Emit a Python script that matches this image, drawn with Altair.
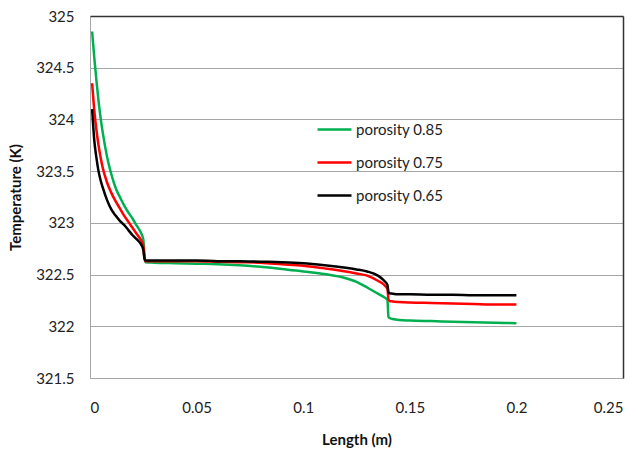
import altair as alt
import pandas as pd

# Length along the bed (m)
length = [0.001, 0.002, 0.003, 0.004, 0.005, 0.006, 0.008, 0.010, 0.012, 0.014,
          0.016, 0.018, 0.020, 0.022, 0.024, 0.025, 0.0255, 0.026, 0.03, 0.04,
          0.05, 0.06, 0.07, 0.08, 0.09, 0.10, 0.11, 0.12, 0.125, 0.13,
          0.135, 0.138, 0.1395, 0.1400, 0.1405, 0.142, 0.145, 0.15, 0.16, 0.17,
          0.18, 0.19, 0.20]

# Temperature (K) for each porosity
t_085 = [324.85, 324.60, 324.38, 324.18, 324.01, 323.87, 323.64, 323.47, 323.34, 323.25,
         323.17, 323.10, 323.04, 322.97, 322.90, 322.84, 322.70, 322.62, 322.615, 322.61,
         322.605, 322.60, 322.59, 322.575, 322.555, 322.53, 322.505, 322.465, 322.43, 322.375,
         322.315, 322.28, 322.255, 322.09, 322.08, 322.07, 322.06, 322.055, 322.05, 322.045,
         322.04, 322.035, 322.03]
t_075 = [324.35, 324.09, 323.90, 323.75, 323.63, 323.53, 323.39, 323.29, 323.21, 323.14,
         323.07, 323.01, 322.95, 322.89, 322.83, 322.78, 322.67, 322.63, 322.63, 322.63,
         322.63, 322.625, 322.62, 322.615, 322.60, 322.585, 322.56, 322.53, 322.51, 322.49,
         322.44, 322.40, 322.36, 322.26, 322.245, 322.24, 322.235, 322.23, 322.225, 322.22,
         322.215, 322.21, 322.21]
t_065 = [324.10, 323.80, 323.63, 323.50, 323.41, 323.34, 323.22, 323.13, 323.07, 323.02,
         322.98, 322.93, 322.88, 322.84, 322.79, 322.74, 322.66, 322.635, 322.635, 322.635,
         322.635, 322.63, 322.63, 322.625, 322.62, 322.61, 322.59, 322.565, 322.55, 322.53,
         322.49, 322.44, 322.40, 322.33, 322.32, 322.315, 322.31, 322.31, 322.305, 322.305,
         322.30, 322.30, 322.30]

series_names = ["porosity 0.85", "porosity 0.75", "porosity 0.65"]
series_colors = ["#00b050", "#ff0000", "#000000"]

x_ticks = [0, 0.05, 0.1, 0.15, 0.2, 0.25]
y_ticks = [321.5, 322, 322.5, 323, 323.5, 324, 324.5, 325]

rows = []
for name, vals in zip(series_names, [t_085, t_075, t_065]):
    for x, t in zip(length, vals):
        rows.append({"Length": x, "Temperature": t, "series": name})
df = pd.DataFrame(rows)

FONT = "Lato"
x_scale = alt.Scale(domain=[0, 0.25], nice=False)
y_scale = alt.Scale(domain=[321.5, 325], nice=False, zero=False)

lines = alt.Chart(df).mark_line(strokeWidth=2.5, interpolate="monotone").encode(
    x=alt.X("Length:Q", scale=x_scale,
            axis=alt.Axis(title="Length (m)", values=x_ticks, format=".2~f", grid=False,
                          ticks=False, domainColor="#a6a6a6", domainWidth=1,
                          labelFont=FONT, labelFontSize=15, labelColor="#222222",
                          labelPadding=22, titleFont=FONT, titleFontSize=15,
                          titleFontWeight="bold", titleColor="#111111", titlePadding=17)),
    y=alt.Y("Temperature:Q", scale=y_scale,
            axis=alt.Axis(title="Temperature (K)", values=y_ticks, format=".1~f", grid=True,
                          gridColor="#a6a6a6", gridWidth=1, ticks=False,
                          domainColor="#a6a6a6", domainWidth=1,
                          labelFont=FONT, labelFontSize=15, labelColor="#222222",
                          labelPadding=16, titleFont=FONT, titleFontSize=15,
                          titleFontWeight="bold", titleColor="#111111", titlePadding=12)),
    color=alt.Color("series:N", sort=series_names,
                    scale=alt.Scale(domain=series_names, range=series_colors),
                    legend=alt.Legend(title=None, orient="none", legendX=226, legendY=95,
                                      symbolType="stroke", symbolSize=1156,
                                      symbolStrokeWidth=2.5, labelFont=FONT,
                                      labelFontSize=15, labelColor="#222222",
                                      labelOffset=3, rowPadding=6)),
)

frame = alt.Chart(df).mark_line(opacity=0).encode(
    x=alt.X("Length:Q", scale=x_scale,
            axis=alt.Axis(orient="top", labels=False, ticks=False, title=None, grid=False,
                          domainColor="#333333", domainWidth=1.5, zindex=1)),
    y=alt.Y("Temperature:Q", scale=y_scale,
            axis=alt.Axis(orient="right", labels=False, ticks=False, title=None, grid=False,
                          domainColor="#333333", domainWidth=1.5, zindex=1)),
)

chart = alt.layer(lines, frame).resolve_axis(x="independent", y="independent").properties(
    width=533, height=362, autosize="none",
    padding={"left": 90, "top": 16, "right": 15, "bottom": 76},
).configure_view(stroke=None)

chart.save("out.html", embed_options={"renderer": "svg", "actions": False})
